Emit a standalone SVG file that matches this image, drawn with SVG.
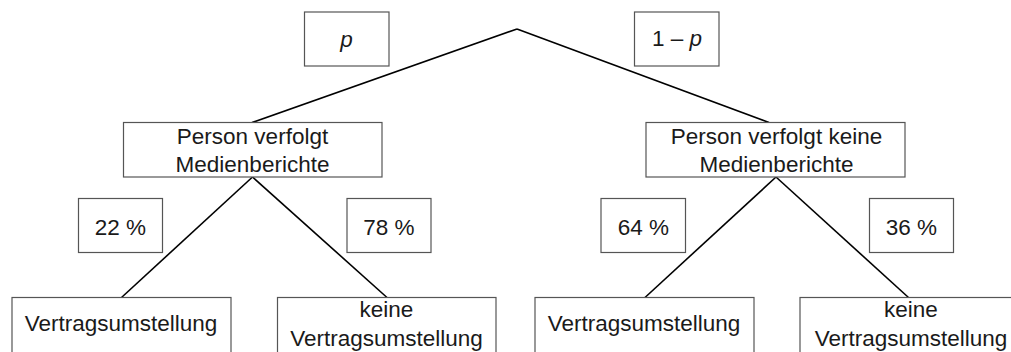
<svg xmlns="http://www.w3.org/2000/svg" width="1011" height="352" viewBox="0 0 1011 352">
<style>
.box{fill:#fff;stroke:#555;stroke-width:1.2}
.t{font-family:"Liberation Sans",Arial,sans-serif;font-size:22.5px;fill:#1a1a1a;text-anchor:middle}
.i{font-style:italic}
.edge{stroke:#000;stroke-width:1.6;fill:none}
</style>
<rect width="1011" height="352" fill="#fff"/>
<g id="connectors">
<line class="edge" x1="517" y1="29" x2="252" y2="122.5"/>
<line class="edge" x1="517" y1="29" x2="769" y2="122.5"/>
<line class="edge" x1="252.5" y1="177" x2="121.5" y2="297.5"/>
<line class="edge" x1="252.5" y1="177" x2="387" y2="297.5"/>
<line class="edge" x1="776" y1="177" x2="645" y2="297.5"/>
<line class="edge" x1="776" y1="177" x2="908.5" y2="297.5"/>
</g>
<g id="label-p"><rect class="box" x="304.5" y="12" width="84.5" height="54"/><text class="t i" x="346.5" y="47">p</text></g>
<g id="label-1-p"><rect class="box" x="634.5" y="12" width="84.5" height="54"/><text class="t" x="677" y="46">1 – <tspan class="i">p</tspan></text></g>
<g id="node-a"><rect class="box" x="123.5" y="122.5" width="258.5" height="54.5"/><text class="t" x="252.5" y="144">Person verfolgt</text><text class="t" x="252.5" y="172">Medienberichte</text></g>
<g id="node-b"><rect class="box" x="646" y="122.5" width="259" height="54.5"/><text class="t" x="776.5" y="144">Person verfolgt keine</text><text class="t" x="776.5" y="172">Medienberichte</text></g>
<g id="label-22"><rect class="box" x="78.5" y="198.5" width="84" height="54"/><text class="t" x="120.5" y="235">22 %</text></g>
<g id="label-78"><rect class="box" x="347" y="198.5" width="84" height="54"/><text class="t" x="389" y="235">78 %</text></g>
<g id="label-64"><rect class="box" x="601" y="198.5" width="84.5" height="54"/><text class="t" x="643.5" y="235">64 %</text></g>
<g id="label-36"><rect class="box" x="869.5" y="198.5" width="84" height="54"/><text class="t" x="911.5" y="235">36 %</text></g>
<g id="leaf-1"><rect class="box" x="12" y="297.5" width="219" height="60"/><text class="t" x="121" y="331">Vertragsumstellung</text></g>
<g id="leaf-2"><rect class="box" x="277.5" y="297.5" width="218.5" height="60"/><text class="t" x="386.5" y="317">keine</text><text class="t" x="386.5" y="346">Vertragsumstellung</text></g>
<g id="leaf-3"><rect class="box" x="535" y="297.5" width="219" height="60"/><text class="t" x="644" y="331">Vertragsumstellung</text></g>
<g id="leaf-4"><rect class="box" x="800" y="297.5" width="222" height="60"/><text class="t" x="911" y="317">keine</text><text class="t" x="911" y="346">Vertragsumstellung</text></g>
</svg>
